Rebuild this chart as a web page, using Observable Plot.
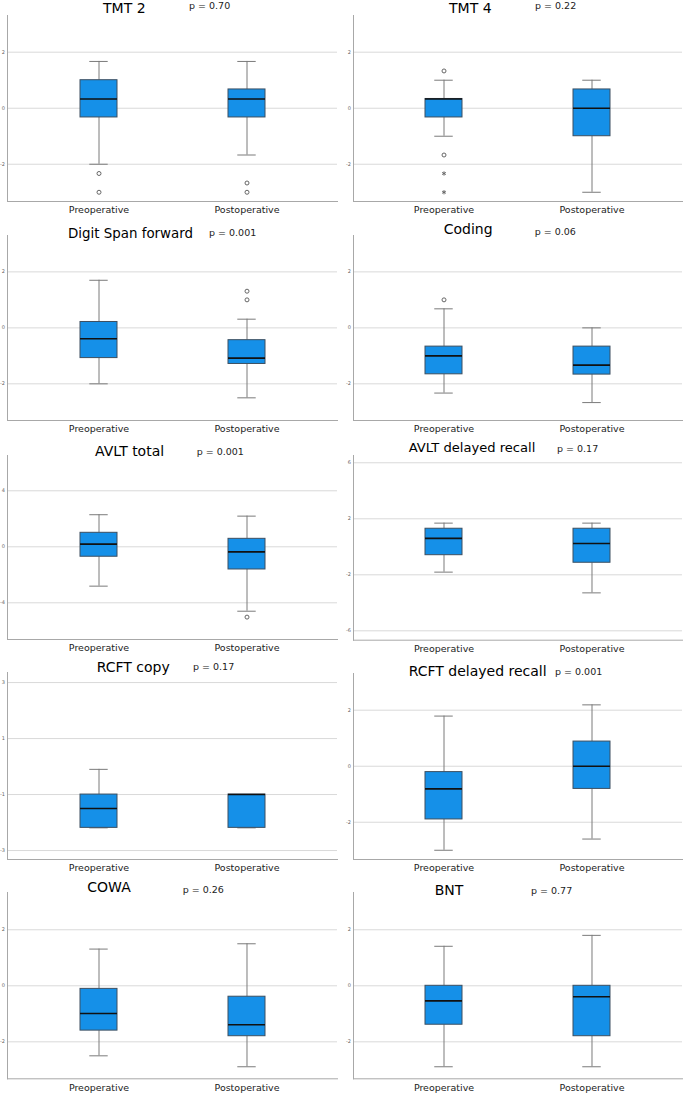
<!DOCTYPE html>
<html>
<head>
<meta charset="utf-8">
<script src="https://cdn.jsdelivr.net/npm/d3@7"></script>
<script src="https://cdn.jsdelivr.net/npm/@observablehq/plot@0.6"></script>
<style>
  html, body { margin: 0; padding: 0; background: #fff; }
  #chart { position: relative; width: 684px; height: 1095px; background: #fff; overflow: hidden; }
  .panel { position: absolute; }
  .ttl { position: absolute; white-space: nowrap; line-height: 1; font-family: "DejaVu Sans", sans-serif; color: #000; }
  .pv { position: absolute; white-space: nowrap; line-height: 1; font-family: "DejaVu Sans", sans-serif; color: #222; }
</style>
</head>
<body>
<div id="chart"></div>
<script>
// ---------- data ----------
const groups = ["Preoperative", "Postoperative"];
const tests = ["TMT 2", "TMT 4", "Digit Span forward", "Coding", "AVLT total",
  "AVLT delayed recall", "RCFT copy", "RCFT delayed recall", "COWA", "BNT"];
const pLabels = ["p = 0.70", "p = 0.22", "p = 0.001", "p = 0.06", "p = 0.001",
  "p = 0.17", "p = 0.17", "p = 0.001", "p = 0.26", "p = 0.77"];
// [preoperative, postoperative]
const whiskerLow = [[-2.0, -1.67], [-1.0, -3.0], [-2.0, -2.5], [-2.33, -2.67], [-2.81, -4.6],
  [-1.81, -3.29], [-2.19, -2.19], [-3.0, -2.6], [-2.5, -2.89], [-2.89, -2.89]];
const quartile1 = [[-0.33, -0.33], [-0.33, -1.0], [-1.08, -1.29], [-1.66, -1.67], [-0.71, -1.62],
  [-0.6, -1.14], [-2.19, -2.19], [-1.9, -0.81], [-1.6, -1.8], [-1.39, -1.8]];
const medians = [[0.33, 0.33], [0.33, 0.0], [-0.39, -1.08], [-1.0, -1.33], [0.19, -0.36],
  [0.6, 0.24], [-1.5, -1.0], [-0.81, 0.0], [-0.99, -1.39], [-0.54, -0.39]];
const quartile3 = [[1.0, 0.67], [0.33, 0.67], [0.21, -0.44], [-0.67, -0.67], [1.0, 0.57],
  [1.29, 1.29], [-1.0, -1.0], [-0.21, 0.88], [-0.11, -0.39], [0.0, 0.0]];
const whiskerHigh = [[1.67, 1.67], [1.0, 1.0], [1.7, 0.31], [0.68, 0.0], [2.29, 2.19],
  [1.69, 1.69], [-0.1, -1.0], [1.79, 2.19], [1.31, 1.5], [1.41, 1.8]];
const outliers = [[[-2.33, -3.0], [-2.67, -3.0]], [[1.33, -1.67], []], [[], [1.31, 1.0]], [[1.0], []],
  [[], [-5.02]], [[], []], [[], []], [[], []], [[], []], [[], []]];
const extremes = [[[], []], [[-2.33, -3.0], []], [[], []], [[], []], [[], []],
  [[], []], [[], []], [[], []], [[], []], [[], []]];
const yTickValues = [[-2, 0, 2], [-2, 0, 2], [-2, 0, 2], [-2, 0, 2], [-4, 0, 4],
  [-6, -2, 2, 6], [-3, -1, 1, 3], [-2, 0, 2], [-2, 0, 2], [-2, 0, 2]];
const yDomains = [[-3.33, 3.31], [-3.33, 3.31], [-3.31, 3.3], [-3.31, 3.3], [-6.62, 6.52],
  [-6.67, 6.52], [-3.32, 3.36], [-3.33, 3.31], [-3.32, 3.33], [-3.32, 3.33]];

// ---------- layout (page pixels) ----------
const layout = [
  {left: 0,   top: 15,  bottom: 201,    tx: 103,   tb: 12.7,  ts: 14,   px: 189,   pb: 9.5},
  {left: 342, top: 15,  bottom: 201,    tx: 449,   tb: 12.7,  ts: 14,   px: 535,   pb: 9.5},
  {left: 0,   top: 235, bottom: 420,    tx: 68,    tb: 238.3, ts: 13.4, px: 209,   pb: 236.5},
  {left: 342, top: 235, bottom: 420,    tx: 443.7, tb: 234.3, ts: 14,   px: 534.7, pb: 235.5},
  {left: 0,   top: 455, bottom: 639,    tx: 95,    tb: 455.7, ts: 14,   px: 196.7, pb: 455},
  {left: 342, top: 455, bottom: 639.7,  tx: 408.7, tb: 452.3, ts: 13.1, px: 557,   pb: 452.3},
  {left: 0,   top: 672, bottom: 859,    tx: 96.7,  tb: 671.7, ts: 14,   px: 193,   pb: 670},
  {left: 342, top: 673, bottom: 859,    tx: 408.7, tb: 675.7, ts: 14,   px: 555,   pb: 675},
  {left: 0,   top: 892, bottom: 1078.3, tx: 87.3,  tb: 891.7, ts: 14,   px: 182.7, pb: 893.3},
  {left: 342, top: 892, bottom: 1078.3, tx: 434.7, tb: 895,   ts: 14,   px: 531,   pb: 894.3}
];

const container = document.getElementById("chart");
const boxFill = "#1590e8";
const axisColor = "#a8a8a8";

tests.forEach((name, i) => {
  const L = layout[i];
  const rightCol = L.left >= 342;
  const axisX = rightCol ? 11 : 7;
  const rightEdge = rightCol ? 340 : 337;
  const mt = 2, mb = 24;
  const stats = groups.map((g, j) => ({
    group: g, lo: whiskerLow[i][j], q1: quartile1[i][j], med: medians[i][j],
    q3: quartile3[i][j], hi: whiskerHigh[i][j]
  }));
  const outs = groups.flatMap((g, j) => outliers[i][j].map(v => ({group: g, value: v})));
  const exts = groups.flatMap((g, j) => extremes[i][j].map(v => ({group: g, value: v})));
  const width = 342;
  const W = rightEdge - axisX;
  const step = W / (2 - 0.75 + 2 * 0.485);
  const cap = step * 0.25 / 4;

  const chart = Plot.plot({
    width,
    height: (L.bottom - L.top) + mt + mb,
    marginTop: mt, marginBottom: mb, marginLeft: axisX, marginRight: width - rightEdge,
    style: {fontFamily: "DejaVu Sans, sans-serif", background: "transparent", overflow: "visible"},
    x: {type: "band", domain: groups, paddingInner: 0.75, paddingOuter: 0.485},
    y: {domain: yDomains[i]},
    marks: [
      Plot.gridY(yTickValues[i], {stroke: "#d9d9d9", strokeOpacity: 1, strokeWidth: 1}),
      Plot.frame({anchor: "left", stroke: axisColor, strokeWidth: 1}),
      Plot.frame({anchor: "bottom", stroke: axisColor, strokeWidth: 1}),
      Plot.axisY(yTickValues[i], {tickSize: 0, tickPadding: 2.5, fontSize: 5, fill: "#666",
        tickFormat: d => String(d), label: null}),
      Plot.axisX({tickSize: 0, tickPadding: 5, fontSize: 9.5, fill: "#222", label: null}),
      Plot.ruleX(stats, {x: "group", y1: "lo", y2: "q1", stroke: "#7a7a7a", strokeWidth: 1}),
      Plot.ruleX(stats, {x: "group", y1: "q3", y2: "hi", stroke: "#7a7a7a", strokeWidth: 1}),
      Plot.tickY(stats, {x: "group", y: "lo", stroke: "#7a7a7a", strokeWidth: 1, insetLeft: cap, insetRight: cap}),
      Plot.tickY(stats, {x: "group", y: "hi", stroke: "#7a7a7a", strokeWidth: 1, insetLeft: cap, insetRight: cap}),
      Plot.barY(stats, {x: "group", y1: "q1", y2: "q3", fill: boxFill, stroke: "#3d4f60", strokeWidth: 1}),
      Plot.tickY(stats, {x: "group", y: "med", stroke: "#111", strokeWidth: 1.6}),
      Plot.dot(outs, {x: "group", y: "value", r: 2, stroke: "#666", fill: "none", strokeWidth: 1}),
      Plot.dot(exts, {x: "group", y: "value", r: 2, symbol: "asterisk", stroke: "#666", strokeWidth: 1})
    ]
  });
  const wrap = document.createElement("div");
  wrap.className = "panel";
  wrap.style.left = L.left + "px";
  wrap.style.top = (L.top - mt) + "px";
  wrap.appendChild(chart);
  container.appendChild(wrap);

  const t = document.createElement("div");
  t.className = "ttl";
  t.textContent = name;
  t.style.fontSize = L.ts + "px";
  t.style.left = L.tx + "px";
  t.style.top = (L.tb - 0.846 * L.ts) + "px";
  container.appendChild(t);

  const p = document.createElement("div");
  p.className = "pv";
  p.textContent = pLabels[i];
  const ps = 9.5;
  p.style.fontSize = ps + "px";
  p.style.left = L.px + "px";
  p.style.top = (L.pb - 0.846 * ps) + "px";
  container.appendChild(p);
});
</script>
</body>
</html>
